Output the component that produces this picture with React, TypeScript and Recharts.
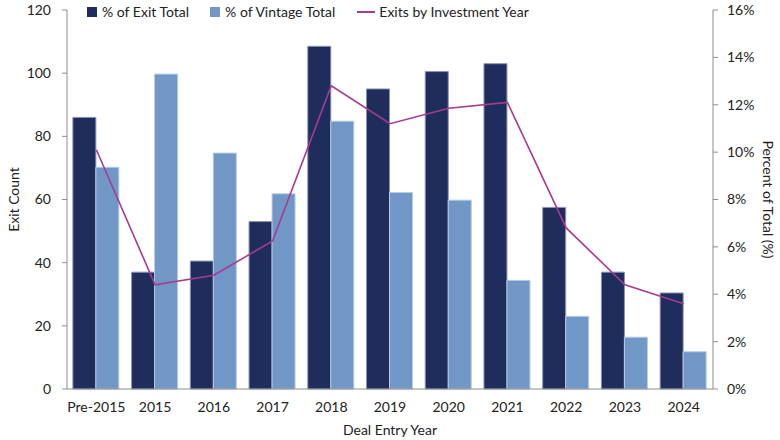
import React from "react";
import {
  ComposedChart,
  Bar,
  Line,
  XAxis,
  YAxis,
  Legend,
} from "recharts";

// Deal entry years and the values
const years = ["Pre-2015", "2015", "2016", "2017", "2018", "2019", "2020", "2021", "2022", "2023", "2024"];
const exitTotal = [86, 37, 40.5, 53, 108.5, 95, 100.5, 103, 57.5, 37, 30.4];
const vintageTotal = [70.2, 99.7, 74.7, 61.8, 84.8, 62.2, 59.8, 34.4, 23, 16.4, 11.8];
const exitsByYear = [10.1, 4.4, 4.8, 6.25, 12.8, 11.2, 11.85, 12.1, 6.8, 4.4, 3.6];

const leftTicks = [0, 20, 40, 60, 80, 100, 120];
const rightTicks = [0, 2, 4, 6, 8, 10, 12, 14, 16];

const data = years.map((year, i) => ({
  year,
  exitTotal: exitTotal[i],
  vintageTotal: vintageTotal[i],
  exitsByYear: exitsByYear[i],
}));

const DARK = "#1f2d5c";
const LIGHT = "#7097c5";
const LINE = "#a53c90";
const AXIS = "#8c8c8c";
const FONT = "Lato, 'Open Sans', sans-serif";

const tickStyle = { fill: "#222", fontSize: 14, fontFamily: FONT };

const LegendContent = () => (
  <div style={{ display: "flex", alignItems: "center", fontFamily: FONT, fontSize: 14, color: "#222", whiteSpace: "nowrap" }}>
    <span style={{ width: 10, height: 10, background: DARK, marginRight: 5 }} />
    <span style={{ marginRight: 21 }}>% of Exit Total</span>
    <span style={{ width: 10, height: 10, background: LIGHT, marginRight: 5 }} />
    <span style={{ marginRight: 22 }}>% of Vintage Total</span>
    <span style={{ width: 18, height: 2, background: LINE, marginRight: 4 }} />
    <span>Exits by Investment Year</span>
  </div>
);

export default function App() {
  return (
    <div style={{ position: "absolute", left: 0, top: 0, width: 780, height: 440, background: "#fff" }}>
      <ComposedChart
        width={780}
        height={440}
        data={data}
        margin={{ top: 10, right: 0, bottom: 0, left: 0 }}
        barCategoryGap="10%"
        barGap={0}
      >
        <XAxis
          dataKey="year"
          height={51}
          tickLine={false}
          tickSize={0}
          tickMargin={13}
          axisLine={{ stroke: AXIS }}
          tick={tickStyle}
          interval={0}
          label={{ value: "Deal Entry Year", position: "insideBottom", offset: 5, style: { ...tickStyle } }}
        />
        <YAxis
          yAxisId="left"
          width={67}
          domain={[0, 120]}
          ticks={leftTicks}
          tickSize={5}
          tickMargin={11}
          tickLine={{ stroke: AXIS }}
          axisLine={{ stroke: AXIS }}
          tick={tickStyle}
          label={{ value: "Exit Count", angle: -90, position: "insideLeft", offset: 14, style: { ...tickStyle, textAnchor: "middle" } }}
        />
        <YAxis
          yAxisId="right"
          orientation="right"
          width={67}
          domain={[0, 16]}
          ticks={rightTicks}
          tickFormatter={(v) => `${v}%`}
          tickSize={5}
          tickMargin={9}
          tickLine={{ stroke: AXIS }}
          axisLine={{ stroke: AXIS }}
          tick={tickStyle}
          label={{ value: "Percent of Total (%)", angle: 90, position: "insideRight", offset: 12, style: { ...tickStyle, textAnchor: "middle" } }}
        />
        <Legend
          layout="horizontal"
          verticalAlign="middle"
          align="center"
          content={<LegendContent />}
          wrapperStyle={{ top: 3, left: 87, width: "auto" }}
        />
        <Bar yAxisId="left" dataKey="exitTotal" fill={DARK} stroke="#8a93b3" strokeWidth={1} isAnimationActive={false} />
        <Bar yAxisId="left" dataKey="vintageTotal" fill={LIGHT} stroke="#b7cbe3" strokeWidth={1} isAnimationActive={false} />
        <Line
          yAxisId="right"
          dataKey="exitsByYear"
          stroke={LINE}
          strokeWidth={1.6}
          dot={false}
          isAnimationActive={false}
        />
      </ComposedChart>
    </div>
  );
}
